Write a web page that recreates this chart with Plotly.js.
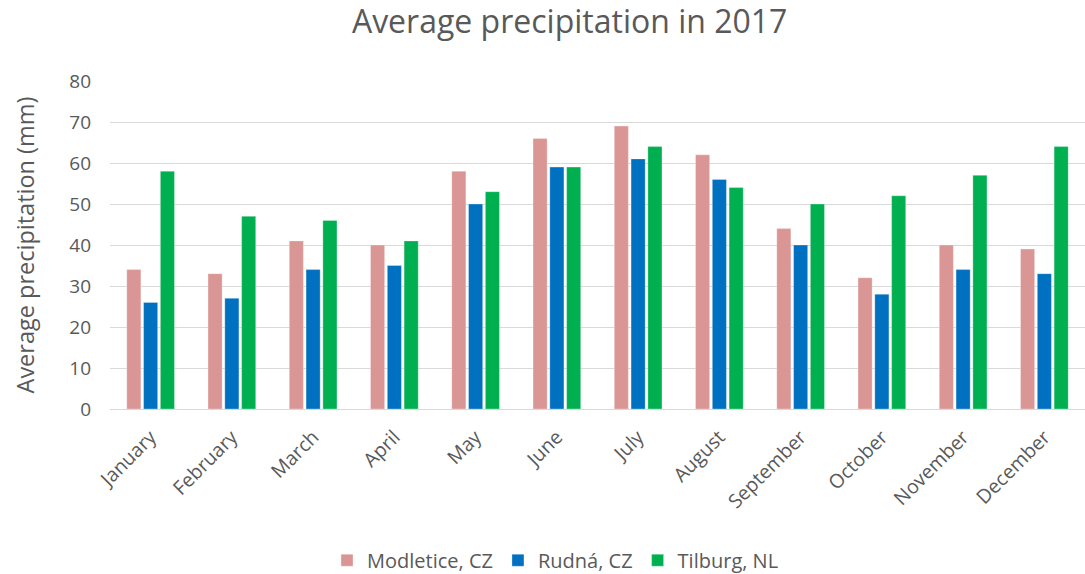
<!DOCTYPE html>
<html>
<head>
<meta charset="utf-8">
<script src="https://cdn.plot.ly/plotly-3.0.1.min.js"></script>
<style>html,body{margin:0;padding:0;background:#fff;}#chart{width:1085px;height:574px;}</style>
</head>
<body>
<div id="chart"></div>
<script>
const months = ["January","February","March","April","May","June","July","August","September","October","November","December"];
const modletice = [34,33,41,40,58,66,69,62,44,32,40,39];
const rudna = [26,27,34,35,50,59,61,56,40,28,34,33];
const tilburg = [58,47,46,41,53,59,64,54,50,52,57,64];
const seriesNames = ["Modletice, CZ","Rudná, CZ","Tilburg, NL"];
const colors = ["#DA9694","#0070C0","#00B050"];

const font = "Open Sans, Liberation Sans, sans-serif";
const traces = [modletice, rudna, tilburg].map((vals, i) => ({
  type: "bar",
  x: months,
  y: vals,
  name: seriesNames[i],
  marker: {color: colors[i], line: {color: "rgba(255,255,255,0.6)", width: 0.5}},
  hoverinfo: "x+y+name"
}));

const layout = {
  width: 1085, height: 574,
  margin: {l: 110, r: 0, t: 81, b: 165},
  paper_bgcolor: "#fff", plot_bgcolor: "#fff",
  font: {family: font, color: "#595959"},
  title: {text: "Average precipitation in 2017", font: {size: 32, color: "#595959", family: font}, x: 0.525, xanchor: "center", y: 0.962, yanchor: "middle"},
  barmode: "group",
  bargap: 0.38,
  bargroupgap: 0.16,
  xaxis: {
    tickangle: -45,
    tickfont: {size: 19.5, color: "#595959"},
    showgrid: false, showline: true, linecolor: "#d9d9d9", linewidth: 1,
    ticks: "", ticklabelstandoff: 8, automargin: false
  },
  yaxis: {
    range: [0, 80], dtick: 10, tick0: 0,
    tickfont: {size: 19, color: "#595959"},
    gridcolor: "#d9d9d9", gridwidth: 1,
    zeroline: true, zerolinecolor: "#d9d9d9", zerolinewidth: 1,
    showline: false, ticks: "", ticklen: 0, ticklabelstandoff: 18,
    title: {text: "Average precipitation (mm)", font: {size: 23.5, color: "#595959"}, standoff: 28},
    automargin: false
  },
  legend: {
    orientation: "h", xref: "container", yref: "container",
    x: 0.512, xanchor: "center", y: 0.024, yanchor: "middle",
    font: {size: 20, color: "#595959"}, traceorder: "normal", itemwidth: 30
  }
};
Plotly.newPlot("chart", traces, layout, {displayModeBar: false, responsive: false});
</script>
</body>
</html>
